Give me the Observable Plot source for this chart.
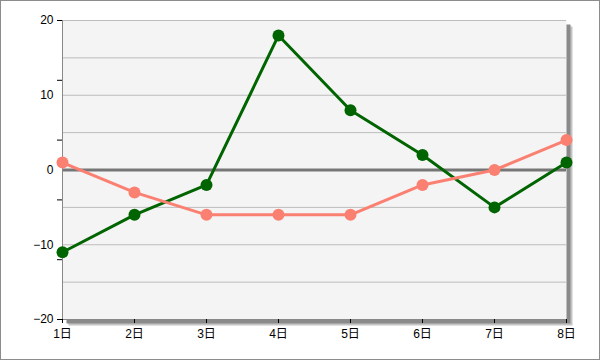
<!DOCTYPE html>
<html>
<head>
<meta charset="utf-8">
<script src="https://cdn.jsdelivr.net/npm/d3@7"></script>
<script src="https://cdn.jsdelivr.net/npm/@observablehq/plot@0.6"></script>
<style>
  html, body { margin: 0; padding: 0; background: white; }
  #wrap { width: 600px; height: 360px; box-sizing: border-box; border: 1px solid #8c8c8c; background: white; overflow: hidden; }
</style>
</head>
<body>
<div id="wrap"></div>
<script>
const days = ["1日", "2日", "3日", "4日", "5日", "6日", "7日", "8日"];
const greenValues = [-11, -6, -2, 18, 8, 2, -5, 1];
const salmonValues = [1, -3, -6, -6, -6, -2, 0, 4];
const yLabelTicks = [-20, -10, 0, 10, 20];
const yTickMarks = [-20, -12, -4, 4, 12, 20];
const gridValues = [20, 15, 10, 5, -5, -10, -15];

const green = days.map((d, i) => ({day: d, value: greenValues[i]}));
const salmon = days.map((d, i) => ({day: d, value: salmonValues[i]}));

const chart = Plot.plot({
  width: 598,
  height: 358,
  marginLeft: 61,
  marginRight: 33,
  marginTop: 19,
  marginBottom: 40,
  style: {fontFamily: "'Liberation Sans', 'Noto Sans CJK JP', sans-serif", fontSize: "12px", color: "black", background: "white", overflow: "visible"},
  x: {type: "point", domain: days, padding: 0, label: null},
  y: {domain: [-20, 20], label: null},
  marks: [
    Plot.frame({fill: "#c4c4c4", stroke: null, dx: 6, dy: 6}),
    Plot.frame({fill: "#8a8a8a", stroke: null, dx: 4, dy: 4}),
    Plot.frame({fill: "#f4f4f4", stroke: null}),
    Plot.ruleY(gridValues, {stroke: "#bcbcbc", strokeWidth: 1}),
    Plot.ruleY([0], {stroke: "#767676", strokeWidth: 3}),
    Plot.ruleX([days[0]], {stroke: "#888888", strokeWidth: 1}),
    Plot.ruleY([-20], {stroke: "#888888", strokeWidth: 1}),
    Plot.axisY(yTickMarks, {tickSize: 5, tickFormat: () => "", stroke: "black", label: null}),
    Plot.axisY(yLabelTicks, {tickSize: 0, tickPadding: 9, label: null}),
    Plot.axisX(days, {tickSize: 4, tickPadding: 6, label: null, stroke: "black"}),
    Plot.line(green, {x: "day", y: "value", stroke: "#006400", strokeWidth: 3}),
    Plot.dot(green, {x: "day", y: "value", fill: "#006400", r: 6}),
    Plot.line(salmon, {x: "day", y: "value", stroke: "#fa8072", strokeWidth: 3}),
    Plot.dot(salmon, {x: "day", y: "value", fill: "#fa8072", r: 6})
  ]
});
document.getElementById("wrap").appendChild(chart);
</script>
</body>
</html>
